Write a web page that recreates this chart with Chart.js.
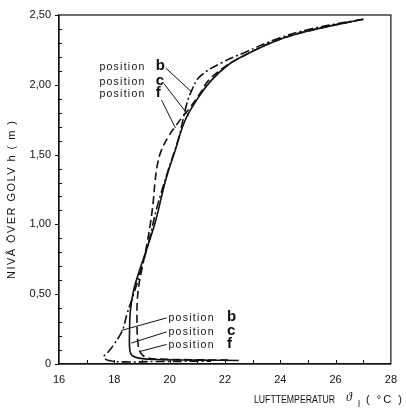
<!DOCTYPE html>
<html>
<head>
<meta charset="utf-8">
<script src="https://cdn.jsdelivr.net/npm/chart.js@4.4.1/dist/chart.umd.min.js"></script>
<style>
  html, body { margin: 0; padding: 0; background: #fff; }
  #wrap { width: 406px; height: 410px; }
</style>
</head>
<body>
<div id="wrap"><canvas id="chart" width="406" height="410"></canvas></div>
<script>
// air temperature (°C) vs height above floor (m)
// position b  (dash-dot)
const tempB = [27.0, 25.1, 23.9, 22.7, 21.9, 21.1, 20.8, 20.6, 20.45, 20.3, 19.92, 19.54, 19.25, 19.0, 18.7, 18.46, 18.29, 17.95, 17.75, 17.62, 17.8, 18.4, 19.5, 21.5];
const hB    = [2.47, 2.40, 2.33, 2.23, 2.16, 2.06, 1.96, 1.85, 1.72, 1.60, 1.37, 1.12, 0.88, 0.70, 0.50, 0.36, 0.24, 0.13, 0.08, 0.05, 0.025, 0.015, 0.018, 0.02];
// position c  (solid)
const tempC = [27.0, 25.1, 23.9, 22.7, 22.1, 21.5, 21.04, 20.57, 20.2, 19.86, 19.5, 19.2, 18.96, 18.7, 18.58, 18.55, 18.56, 18.65, 18.95, 19.6, 21.0, 22.5];
const hC    = [2.47, 2.39, 2.32, 2.21, 2.14, 2.03, 1.91, 1.75, 1.53, 1.32, 1.03, 0.84, 0.70, 0.53, 0.38, 0.22, 0.10, 0.06, 0.04, 0.032, 0.028, 0.025];
// position f  (dashed)
const tempF = [27.0, 25.1, 23.9, 22.7, 22.0, 21.4, 21.14, 20.75, 20.5, 20.2, 19.96, 19.7, 19.55, 19.47, 19.4, 19.3, 19.17, 19.02, 18.9, 18.83, 18.82, 18.85, 18.95, 19.2, 19.7, 21.0, 22.2];
const hF    = [2.47, 2.39, 2.32, 2.21, 2.13, 2.03, 1.95, 1.84, 1.78, 1.70, 1.63, 1.53, 1.42, 1.30, 1.15, 1.00, 0.85, 0.70, 0.58, 0.45, 0.30, 0.16, 0.08, 0.045, 0.035, 0.03, 0.028];

const positions = ["b", "c", "f"];

// label groups, in data units (°C, m)
const topTextX = 17.46, topLetterX = 19.5, topRowsH = [2.137, 2.03, 1.94];
const botTextX = 19.96, botLetterX = 22.07, botRowsH = [0.335, 0.235, 0.145];
// leader lines [x1, y1, x2, y2]
const topLeaders = [[19.86, 2.12, 20.79, 1.95], [19.79, 2.01, 20.68, 1.78], [19.71, 1.89, 20.21, 1.69]];
const botLeaders = [[19.89, 0.33, 18.25, 0.24], [19.89, 0.23, 18.61, 0.15], [19.89, 0.14, 18.93, 0.09]];

const INK = "#111";
const SANS = "'Liberation Sans', Arial, sans-serif";
const toPts = (xs, ys) => xs.map((x, i) => ({ x: x, y: ys[i] }));

const curveSets = [
  { label: "position b", data: toPts(tempB, hB), borderDash: [9, 3, 2, 3] },
  { label: "position c", data: toPts(tempC, hC), borderDash: [] },
  { label: "position f", data: toPts(tempF, hF), borderDash: [8, 4] },
].map(d => Object.assign(d, {
  showLine: true, borderColor: INK, borderWidth: 1.6, pointRadius: 0, tension: 0.4, fill: false,
}));

const leaderSets = topLeaders.concat(botLeaders).map((l, i) => ({
  label: "leader" + i,
  data: [{ x: l[0], y: l[1] }, { x: l[2], y: l[3] }],
  showLine: true, borderColor: INK, borderWidth: 1, pointRadius: 0, tension: 0,
}));

// spread text out with letter spacing so it spans a given width
function spacedText(ctx, str, x, y, w) {
  ctx.letterSpacing = "0px";
  const m = ctx.measureText(str).width;
  const gap = (w - m) / (str.length - 1);
  ctx.save();
  ctx.translate(x, y);
  if (gap < 0) ctx.scale(w / m, 1);
  else ctx.letterSpacing = gap.toFixed(2) + "px";
  ctx.fillText(str, 0, 0);
  ctx.restore();
  ctx.letterSpacing = "0px";
}

const decor = {
  id: "decor",
  afterDraw(chart) {
    const { ctx, chartArea: a, scales: { x, y } } = chart;
    ctx.save();
    ctx.strokeStyle = INK;
    ctx.lineWidth = 1.2;
    ctx.strokeRect(a.left, a.top, a.right - a.left, a.bottom - a.top);

    // inward minor ticks on x, every degree
    ctx.lineWidth = 1;
    ctx.beginPath();
    for (let v = x.min + 1; v < x.max; v++) {
      const px = Math.round(x.getPixelForValue(v)) + 0.5;
      ctx.moveTo(px, a.bottom); ctx.lineTo(px, a.bottom - 4);
    }
    // inward minor ticks on y every 0.1, outward at every 0.5
    for (let k = 0; k <= 25; k++) {
      const py = Math.round(y.getPixelForValue(k / 10)) + 0.5;
      if (k % 5 === 0) { ctx.moveTo(a.left - 4, py); ctx.lineTo(a.left, py); }
      else { ctx.moveTo(a.left, py); ctx.lineTo(a.left + 3, py); }
    }
    ctx.stroke();

    // labels "position b / c / f"
    ctx.fillStyle = INK;
    ctx.textBaseline = "middle";
    ctx.textAlign = "left";
    const group = (tx, lx, rows) => {
      rows.forEach((h, i) => {
        const py = y.getPixelForValue(h);
        ctx.font = "10.5px " + SANS;
        spacedText(ctx, "position", x.getPixelForValue(tx), py + 1, 45);
        ctx.font = "bold 15px " + SANS;
        ctx.fillText(positions[i], x.getPixelForValue(lx), py);
      });
    };
    group(topTextX, topLetterX, topRowsH);
    group(botTextX, botLetterX, botRowsH);

    // axis titles
    ctx.font = "11px " + SANS;
    ctx.save();
    ctx.translate(12, 279);
    ctx.rotate(-Math.PI / 2);
    spacedText(ctx, "NIVÅ ÖVER GOLV h ( m )", 0, 0, 158);
    ctx.restore();

    ctx.font = "10px " + SANS;
    spacedText(ctx, "LUFTTEMPERATUR", 254, 400, 81);
    ctx.font = "italic 12px 'Liberation Serif', serif";
    ctx.fillText("ϑ", 346, 398);
    ctx.font = "9px " + SANS;
    ctx.fillText("l", 358, 405);
    ctx.font = "11px " + SANS;
    spacedText(ctx, "( °C )", 366, 400, 36);
    ctx.restore();
  }
};

new Chart(document.getElementById("chart"), {
  type: "scatter",
  data: { datasets: curveSets.concat(leaderSets) },
  options: {
    responsive: false,
    animation: false,
    layout: { padding: { top: 15, right: 11, left: 0, bottom: 0 } },
    plugins: { legend: { display: false }, tooltip: { enabled: false } },
    scales: {
      x: {
        type: "linear", min: 16, max: 28,
        afterFit: s => { s.height = 46; },
        grid: { drawOnChartArea: false, drawTicks: false },
        border: { color: INK, width: 1.2 },
        ticks: { stepSize: 2, padding: 9, color: INK, font: { family: SANS, size: 11 },
                 callback: v => String(v) },
      },
      y: {
        type: "linear", min: 0, max: 2.5,
        afterFit: s => { s.width = 59; },
        grid: { drawOnChartArea: false, drawTicks: false },
        border: { color: INK, width: 1.2 },
        ticks: { stepSize: 0.5, padding: 8, color: INK, font: { family: SANS, size: 11 },
                 callback: v => v === 0 ? "0" : v.toFixed(2).replace(".", ",") },
      },
    },
  },
  plugins: [decor],
});
</script>
</body>
</html>
